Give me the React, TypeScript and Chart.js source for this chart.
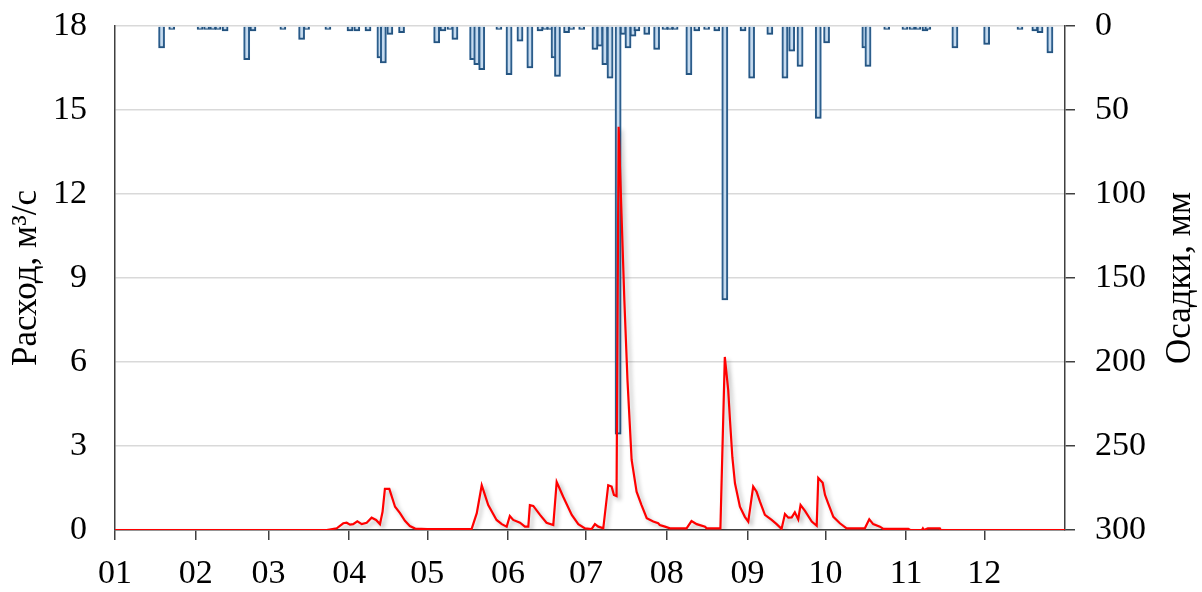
import React, { useEffect, useRef } from 'react';
import { Chart, registerables } from 'chart.js';

Chart.register(...registerables);

const FONT = "'Liberation Serif', 'Times New Roman', serif";

// x axis: day of year (0 = 1 January), ticks at the first day of each month
const monthStartDays = [0, 31, 59, 90, 120, 151, 181, 212, 243, 273, 304, 334];
const monthLabels = ['01', '02', '03', '04', '05', '06', '07', '08', '09', '10', '11', '12'];

// Discharge, m3/s (left axis)
const dischargeDays = [
  0, 81.3, 85.2, 87.7, 89.0, 90.3, 91.5, 93.1, 94.8, 96.7, 98.6, 100.3, 101.8, 102.8, 103.7, 105.4,
  107.6, 109.5, 111.4, 113.3, 115.3, 120.0, 137.0, 139.0, 140.9, 143.4, 146.6, 148.6, 150.5, 151.7,
  153.0, 155.6, 157.5, 158.8, 159.4, 160.7, 163.3, 165.8, 168.4, 169.7, 172.2, 175.5, 178.0, 180.6,
  183.1, 184.4, 185.7, 187.6, 189.5, 190.8, 191.7, 192.7, 193.5, 195.7, 196.9, 198.5, 200.4, 202.3,
  204.3, 206.8, 208.7, 209.3, 211.3, 213.2, 219.6, 221.5, 223.5, 226.7, 227.3, 232.6, 234.3, 235.6,
  236.3, 237.2, 238.2, 240.1, 242.0, 243.3, 245.2, 246.5, 247.8, 249.7, 252.3, 254.2, 256.1, 257.4,
  258.7, 260.0, 261.2, 262.5, 263.4, 265.1, 267.7, 269.6, 270.2, 271.9, 272.8, 274.0, 276.0, 278.5,
  281.1, 288.1, 289.8, 291.3, 293.9, 295.2, 304.8, 305.5, 310.0, 310.4, 310.8, 312.3, 316.9, 317.3, 365,
];
const dischargeValues = [
  0, 0, 0.06, 0.24, 0.26, 0.19, 0.21, 0.31, 0.21, 0.26, 0.44, 0.36, 0.21, 0.65, 1.47, 1.47,
  0.83, 0.6, 0.33, 0.14, 0.05, 0.03, 0.03, 0.6, 1.6, 0.89, 0.36, 0.21, 0.12, 0.5,
  0.36, 0.26, 0.12, 0.12, 0.89, 0.86, 0.54, 0.26, 0.18, 1.72, 1.19, 0.54, 0.21, 0.06,
  0.03, 0.21, 0.12, 0.06, 1.6, 1.55, 1.25, 1.21, 14.4, 8.2, 5.35, 2.5, 1.37, 0.89,
  0.42, 0.3, 0.24, 0.18, 0.12, 0.06, 0.06, 0.32, 0.21, 0.12, 0.06, 0.06, 6.18, 5.0,
  3.9, 2.6, 1.67, 0.83, 0.47, 0.3, 1.55, 1.37, 1.01, 0.54, 0.36, 0.21, 0.04, 0.57,
  0.44, 0.45, 0.63, 0.38, 0.89, 0.68, 0.3, 0.15, 1.86, 1.69, 1.25, 0.95, 0.47, 0.24,
  0.06, 0.06, 0.38, 0.21, 0.12, 0.04, 0.04, 0, 0, 0.06, 0, 0.06, 0.06, 0, 0,
];

// Precipitation, mm (right axis, reversed)
const precipDays = [
  17.9, 21.8, 32.7, 35.2, 37.6, 39.6, 42.3, 50.6, 53.0, 64.5, 71.7, 73.6, 81.8,
  90.3, 92.9, 97.2, 101.8, 103.1, 105.6, 110.1, 123.6, 126.0, 128.7, 130.6,
  137.4, 139.0, 140.9, 147.5, 151.4, 155.6, 159.4, 163.3, 165.2, 167.1, 168.7, 170.0,
  173.5, 175.4, 179.3, 184.4, 186.3, 188.2, 190.2, 193.3, 195.2, 197.1, 199.0, 200.5,
  204.3, 208.1, 211.3, 213.2, 215.2, 220.5, 223.5, 227.3, 231.2, 234.3,
  241.3, 244.6, 251.6, 257.4, 260.0, 263.2, 270.2, 273.4, 288.1, 289.3, 296.5,
  303.5, 306.2, 308.5, 311.2, 312.3, 322.7, 334.9, 347.7, 353.4, 355.4, 359.2,
];
const precipValues = [
  13, 2, 2, 2, 2, 2, 3, 20, 3, 2, 8, 2, 2,
  3, 3, 3, 19, 22, 5, 4, 10, 3, 2, 8,
  20, 23, 26, 2, 29, 9, 25, 3, 2, 2, 19, 30,
  4, 2, 2, 14, 12, 23, 31, 243, 5, 13, 6, 3,
  5, 14, 2, 2, 2, 29, 3, 2, 3, 163,
  3, 31, 5, 31, 15, 24, 55, 10, 13, 24, 2,
  2, 2, 2, 3, 2, 13, 11, 2, 3, 4, 16,
];

const leftTitle = 'Расход, м³/с';
const rightTitle = 'Осадки, мм';

export default function App() {
  const ref = useRef<HTMLCanvasElement>(null);

  useEffect(() => {
    if (!ref.current) return;
    Chart.defaults.font.family = FONT;
    Chart.defaults.color = '#000';

    const effects = {
      id: 'effects',
      beforeDatasetDraw(chart: any, args: any) {
        const ctx = chart.ctx;
        ctx.save();
        if (args.index === 0) {
          ctx.shadowColor = 'rgba(110,165,222,0.95)';
          ctx.shadowBlur = 9;
        } else {
          ctx.shadowColor = 'rgba(0,0,0,0.28)';
          ctx.shadowBlur = 4;
          ctx.shadowOffsetX = 3;
          ctx.shadowOffsetY = 3;
        }
      },
      afterDatasetDraw(chart: any) {
        chart.ctx.restore();
      },
    };

    const rightTitlePlugin = {
      id: 'rightTitle',
      afterDraw(chart: any) {
        const ctx = chart.ctx;
        const area = chart.chartArea;
        ctx.save();
        ctx.translate(1190, (area.top + area.bottom) / 2);
        ctx.rotate(-Math.PI / 2);
        ctx.font = `35px ${FONT}`;
        ctx.fillStyle = '#000';
        ctx.textAlign = 'center';
        ctx.textBaseline = 'alphabetic';
        ctx.fillText(rightTitle, 0, 0);
        ctx.restore();
      },
    };

    const axisColor = '#404040';
    const noVerticalPadding = (s: any) => {
      s.paddingTop = 0;
      s.paddingBottom = 0;
    };

    const chart = new Chart(ref.current, {
      type: 'line',
      data: {
        datasets: [
          {
            type: 'bar',
            label: rightTitle,
            yAxisID: 'y1',
            data: precipDays.map((d, i) => ({ x: d, y: precipValues[i] })),
            backgroundColor: '#c6dbef',
            borderColor: '#1f4e79',
            borderWidth: 2,
            barThickness: 6,
            order: 2,
          } as any,
          {
            type: 'line',
            label: leftTitle,
            yAxisID: 'y',
            data: dischargeDays.map((d, i) => ({ x: d, y: dischargeValues[i] })),
            borderColor: '#ff0000',
            borderWidth: 2.2,
            pointRadius: 0,
            tension: 0,
            fill: false,
            order: 1,
          },
        ],
      },
      plugins: [effects, rightTitlePlugin],
      options: {
        responsive: false,
        animation: false,
        events: [],
        layout: { padding: { top: 26, left: 0, right: 0, bottom: 0 } },
        plugins: { legend: { display: false }, tooltip: { enabled: false } },
        scales: {
          x: {
            type: 'linear',
            min: 0,
            max: 365,
            offset: false,
            afterBuildTicks: (s: any) => {
              s.ticks = monthStartDays.map((v) => ({ value: v }));
            },
            afterFit: (s: any) => {
              s.height = 62;
            },
            ticks: {
              autoSkip: false,
              maxRotation: 0,
              padding: 14,
              font: { size: 34 },
              color: '#000',
              callback: (_v: any, i: number) => monthLabels[i],
            },
            grid: {
              offset: false,
              drawOnChartArea: false,
              drawTicks: true,
              tickLength: 10,
              color: axisColor,
              lineWidth: 1.5,
            },
            border: { display: true, color: axisColor, width: 1.5 },
          },
          y: {
            type: 'linear',
            position: 'left',
            min: 0,
            max: 18,
            afterFit: (s: any) => {
              s.width = 115;
              noVerticalPadding(s);
            },
            ticks: { stepSize: 3, padding: 28, font: { size: 34 }, color: '#000' },
            grid: { color: '#d9d9d9', lineWidth: 1.5, drawTicks: false },
            border: { display: true, color: axisColor, width: 1.5 },
            title: { display: true, text: leftTitle, font: { size: 35 }, color: '#000', padding: { top: 6, bottom: 0 } },
          },
          y1: {
            type: 'linear',
            position: 'right',
            reverse: true,
            min: 0,
            max: 300,
            afterFit: (s: any) => {
              s.width = 137;
              noVerticalPadding(s);
            },
            ticks: { stepSize: 50, padding: 20, font: { size: 34 }, color: '#000' },
            grid: { drawOnChartArea: false, drawTicks: true, tickLength: 10, color: axisColor, lineWidth: 1.5 },
            border: { display: true, color: axisColor, width: 1.5 },
          },
        },
      } as any,
    });

    return () => chart.destroy();
  }, []);

  return (
    <div style={{ position: 'absolute', left: 0, top: 0, width: 1202, height: 592, background: '#fff' }}>
      <canvas ref={ref} width={1202} height={592} />
    </div>
  );
}
